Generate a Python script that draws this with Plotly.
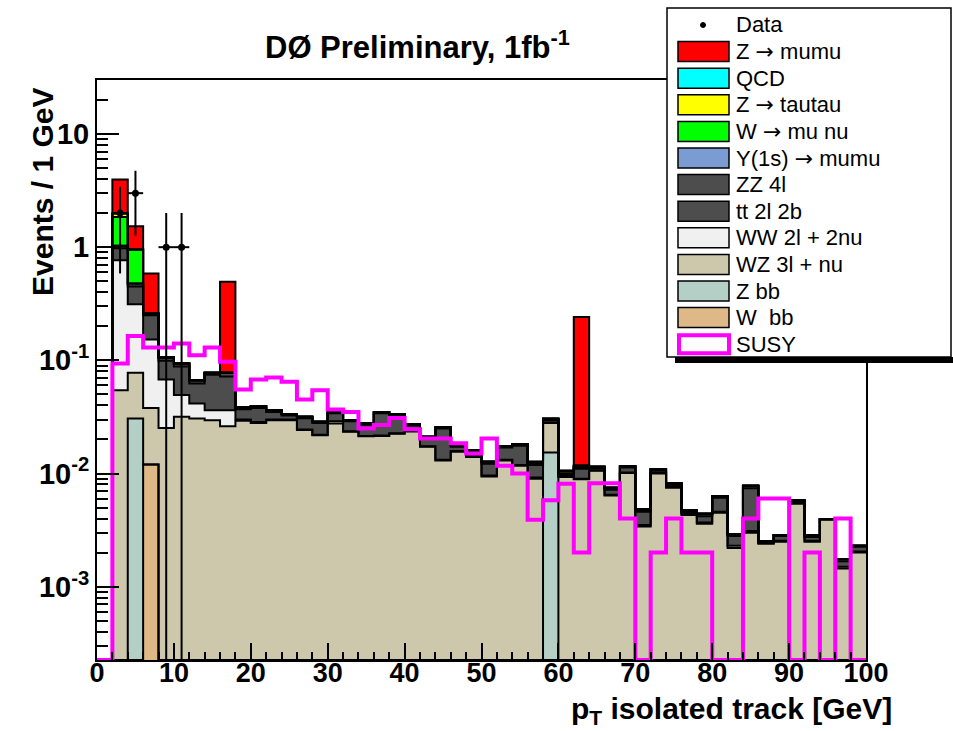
import numpy as np
import plotly.graph_objects as go

# ---------------- data (2 GeV bins from 0 to 100 GeV) ----------------
bin_edges = list(range(0, 101, 2))
bin_centers = [e + 1 for e in bin_edges[:-1]]

data_counts = [0, 2, 3, 0, 1, 1, 0, 0, 0, 0, 0, 0, 0, 0, 0, 0, 0, 0, 0, 0,
               0, 0, 0, 0, 0, 0, 0, 0, 0, 0, 0, 0, 0, 0, 0, 0, 0, 0, 0, 0,
               0, 0, 0, 0, 0, 0, 0, 0, 0, 0]

w_bb = [0, 0, 0, 0.012, 0, 0, 0, 0, 0, 0, 0, 0, 0, 0, 0, 0, 0, 0, 0, 0,
        0, 0, 0, 0, 0, 0, 0, 0, 0, 0, 0, 0, 0, 0, 0, 0, 0, 0, 0, 0,
        0, 0, 0, 0, 0, 0, 0, 0, 0, 0]
z_bb = [0, 0, 0.0307, 0, 0, 0, 0, 0, 0, 0, 0, 0, 0, 0, 0, 0, 0, 0, 0, 0,
        0, 0, 0, 0, 0, 0, 0, 0, 0, 0.0153, 0, 0, 0, 0, 0, 0, 0, 0, 0, 0,
        0, 0, 0, 0, 0, 0, 0, 0, 0, 0]
wz_3l_nu = [0, 0.0545, 0.0469, 0.026, 0.0253, 0.0317, 0.0307, 0.0296, 0.0262, 0.0293,
            0.0280, 0.0296, 0.0296, 0.0242, 0.0218, 0.0277, 0.0234, 0.0213, 0.0215, 0.0225,
            0.0235, 0.0172, 0.0130, 0.0156, 0.0140, 0.0094, 0.0130, 0.0117, 0.0090, 0.0127,
            0.0093, 0.0089, 0.0106, 0.0064, 0.0101, 0.0034, 0.0100, 0.0075, 0.0043, 0.0036,
            0.0045, 0.0022, 0.0030, 0.0024, 0.0025, 0.0054, 0.0025, 0.0039, 0.00145, 0.0020]
ww_2l_2nu = [0, 0.7125, 0.235, 0.115, 0.0425, 0.0176, 0.0109, 0.0067, 0.0101, 0.0007,
             0.0005, 0.0004, 0.0004, 0.0003, 0.0002, 0.0013, 0.0002, 0.0002, 0.0002, 0.0002,
             0.0002, 0.0002, 0.0002, 0.0002, 0.0002, 0.0002, 0.0002, 0.0002, 0.0002, 0.0002,
             0.0001, 0.0001, 0.0001, 0.0001, 0.0001, 0.0001, 0.0001, 0.0001, 0.0001, 0.0001,
             0.0001, 0.0001, 0.0001, 0.00005, 0.00005, 0.0001, 0.00005, 0.00005, 0.00005, 0.00005]
tt_2l_2b = [0, 0.213, 0.137, 0.097, 0.0312, 0.0387, 0.0209, 0.0382, 0.0357, 0.0070,
            0.0095, 0.0050, 0.0025, 0.0063, 0.0060, 0.0050, 0.0054, 0.0055, 0.0123, 0.0098,
            0.0028, 0.0031, 0.0118, 0.0014, 0.0013, 0.0026, 0.0038, 0.0057, 0.0027, 0.0013,
            0.0003, 0.0020, 0.0005, 0.0007, 0.0011, 0.0011, 0.0005, 0.0003, 0.0001, 0.0005,
            0.0015, 0.0005, 0.0043, 0.00001, 0.00025, 0.0002, 0.0002, 0.00001, 0.00018, 0.0002]
zz_4l = [0, 0.05, 0.028, 0.010, 0.007, 0.006, 0.0043, 0.0031, 0.0056, 0.0013,
         0.0013, 0.0013, 0.0010, 0.0009, 0.0006, 0.0007, 0.0006, 0.0007, 0.0007, 0.0010,
         0.0008, 0.0006, 0.0005, 0.0006, 0.0005, 0.0005, 0.0005, 0.0006, 0.0003, 0.0010,
         0.0003, 0.0005, 0.0003, 0.0003, 0.0003, 0.0002, 0.0003, 0.0003, 0.0002, 0.0002,
         0.0002, 0.0001, 0.0004, 0.00006, 0.00006, 0.0001, 0.0001, 0.00001, 0.00008, 0.00005]
y1s_mumu = [0] * 50
w_mu_nu = [0, 0.82, 0.477] + [0] * 47
z_tautau = [0, 0.13, 0, 0, 0, 0, 0, 0, 0, 0, 0, 0, 0, 0, 0, 0, 0, 0, 0, 0,
            0, 0, 0, 0, 0, 0, 0, 0, 0.0005, 0, 0.0006, 0.0003, 0, 0, 0, 0, 0, 0, 0, 0,
            0, 0, 0, 0, 0, 0, 0, 0, 0, 0]
qcd = [0] * 50
z_mumu = [0, 1.98, 0.575, 0.326, 0, 0, 0, 0, 0.416, 0, 0, 0, 0, 0, 0, 0, 0, 0, 0, 0,
          0, 0, 0, 0, 0, 0, 0, 0, 0, 0, 0, 0.230, 0, 0, 0, 0, 0, 0, 0, 0,
          0, 0, 0, 0, 0, 0, 0, 0, 0, 0]
susy = [0, 0.094, 0.164, 0.130, 0.130, 0.141, 0.111, 0.130, 0.097, 0.0553,
        0.0678, 0.0706, 0.0646, 0.0451, 0.0545, 0.0368, 0.0349, 0.0250, 0.0268, 0.0310,
        0.0246, 0.0204, 0.0204, 0.0185, 0.0150, 0.0204, 0.0117, 0.0100, 0.0039, 0.0058,
        0.0081, 0.0020, 0.0082, 0.0082, 0.0040, 0, 0.0020, 0.0040, 0.0020, 0.0020,
        0, 0, 0.0040, 0.0060, 0.0060, 0, 0.0020, 0, 0.0040, 0]

# stack order: bottom -> top
stack_names = ["W  bb", "Z bb", "WZ 3l + nu", "WW 2l + 2nu", "tt 2l 2b", "ZZ 4l",
               "Y(1s) \u2192 mumu", "W \u2192 mu nu", "Z \u2192 tautau", "QCD", "Z \u2192 mumu"]
stack_values = [w_bb, z_bb, wz_3l_nu, ww_2l_2nu, tt_2l_2b, zz_4l,
                y1s_mumu, w_mu_nu, z_tautau, qcd, z_mumu]
stack_colors = ["#deb887", "#b3cfc6", "#cdc7ab", "#f0f0f0", "#4d4d4d", "#4d4d4d",
                "#7b9bd3", "#00ff00", "#ffff00", "#00ffff", "#ff0000"]
susy_color = "#ff00ff"

y_min, y_max = 2.25e-4, 30.0
x_labels = ["0", "10", "20", "30", "40", "50", "60", "70", "80", "90", "100"]
y_tickvals = [1e-3, 1e-2, 1e-1, 1, 10]
y_ticktext = ["10<sup>-3</sup>", "10<sup>-2</sup>", "10<sup>-1</sup>", "1", "10"]

# ---------------- figure ----------------
W, H = 953, 731
ML, MR, MT, MB = 97, 87, 80, 71
FONT = "Liberation Sans, Arial, Helvetica, sans-serif"
ARROW = '<span style="font-family:DejaVu Sans">\u2192</span>'

fig = go.Figure()

for name, vals, col in zip(stack_names, stack_values, stack_colors):
    fig.add_trace(go.Bar(x=bin_centers, y=vals, width=2, name=name,
                         marker=dict(color=col, line=dict(width=0)),
                         showlegend=False, hoverinfo="skip"))

# outlines of each cumulative histogram (ROOT THStack style)
cum = np.cumsum(np.array(stack_values, dtype=float), axis=0)
for k in range(cum.shape[0]):
    ys = np.maximum(cum[k], y_min)
    fig.add_trace(go.Scatter(x=bin_edges, y=np.append(ys, ys[-1]), mode="lines",
                             line=dict(color="black", width=2, shape="hv"),
                             showlegend=False, hoverinfo="skip"))

# SUSY signal
s = np.maximum(np.array(susy, dtype=float), y_min)
fig.add_trace(go.Scatter(x=bin_edges, y=np.append(s, s[-1]), mode="lines",
                         line=dict(color=susy_color, width=4, shape="hv"),
                         showlegend=False, hoverinfo="skip"))

# data
dc = np.array(data_counts, dtype=float)
nz = dc > 0
fig.add_trace(go.Scatter(x=np.array(bin_centers)[nz], y=dc[nz], mode="markers",
                         marker=dict(color="black", size=7),
                         error_y=dict(type="data", array=np.sqrt(dc[nz]), color="black",
                                      thickness=2, width=0),
                         error_x=dict(type="constant", value=1, color="black",
                                      thickness=2, width=0),
                         showlegend=False, hoverinfo="skip"))

minor_y = [m * 10.0 ** e for e in range(-4, 2) for m in range(2, 10)]

fig.update_layout(
    width=W, height=H, barmode="stack", bargap=0,
    margin=dict(l=ML, r=MR, t=MT, b=MB, pad=0),
    plot_bgcolor="white", paper_bgcolor="white",
    showlegend=False,
    xaxis=dict(range=[0, 100], showline=True, linecolor="black", linewidth=2, mirror=True,
               ticks="inside", ticklen=17, tickwidth=2, tickcolor="black",
               tickmode="array", tickvals=[int(t) for t in x_labels], ticktext=x_labels,
               tickfont=dict(family=FONT, size=27, color="black", weight="bold"),
               ticklabelstandoff=-12,
               minor=dict(ticks="inside", ticklen=8, tickwidth=1.5, tickcolor="black",
                          dtick=2, tick0=0),
               showgrid=False, zeroline=False),
    yaxis=dict(type="log", range=[np.log10(y_min), np.log10(y_max)],
               showline=True, linecolor="black", linewidth=2, mirror=True,
               ticks="inside", ticklen=22, tickwidth=2, tickcolor="black",
               tickmode="array", tickvals=y_tickvals, ticktext=y_ticktext,
               tickfont=dict(family=FONT, size=29, color="black", weight="bold"),
               minor=dict(ticks="inside", ticklen=11, tickwidth=1.5, tickcolor="black",
                          tickmode="array", tickvals=minor_y),
               showgrid=False, zeroline=False),
)

# pixel -> paper helpers (layout placement only)
def px(x):
    return (x - ML) / (W - ML - MR)

def py(y):
    return (H - MB - y) / (H - MT - MB)

shapes = []
annotations = []

# title and axis titles
annotations.append(dict(x=px(417), y=py(45), xref="paper", yref="paper",
                        text="<b>D\u00d8 Preliminary, 1fb<sup>-1</sup></b>", showarrow=False,
                        xanchor="center", yanchor="middle",
                        font=dict(family=FONT, size=31, color="black")))
annotations.append(dict(x=px(894), y=py(731), xref="paper", yref="paper",
                        text="<b>p<sub>T</sub> isolated track [GeV]</b>", showarrow=False,
                        xanchor="right", yanchor="bottom",
                        font=dict(family=FONT, size=30, color="black")))
annotations.append(dict(x=px(42), y=py(192), xref="paper", yref="paper",
                        text="<b>Events / 1 GeV</b>", showarrow=False, textangle=-90,
                        xanchor="center", yanchor="middle",
                        font=dict(family=FONT, size=30, color="black")))

# legend (drawn manually, ROOT TLegend look)
leg_names = ["Data", "Z " + ARROW + " mumu", "QCD", "Z " + ARROW + " tautau",
             "W " + ARROW + " mu nu", "Y(1s) " + ARROW + " mumu", "ZZ 4l", "tt 2l 2b",
             "WW 2l + 2nu", "WZ 3l + nu", "Z bb", "W\u00a0 bb", "SUSY"]
leg_fill = [None] + stack_colors[::-1] + ["white"]
shapes.append(dict(type="rect", xref="paper", yref="paper", x0=px(675), x1=px(960),
                   y0=py(357), y1=py(363), fillcolor="black", line=dict(width=0)))
shapes.append(dict(type="rect", xref="paper", yref="paper", x0=px(667), x1=px(951),
                   y0=py(357), y1=py(8), fillcolor="white",
                   line=dict(color="black", width=1.5)))
row0, dy = 25, 26.6
for i, (nm, fc) in enumerate(zip(leg_names, leg_fill)):
    cy = row0 + dy * i
    if i == 0:
        shapes.append(dict(type="circle", xref="paper", yref="paper",
                           x0=px(700.5), x1=px(705.5), y0=py(cy + 2.5), y1=py(cy - 2.5),
                           fillcolor="black", line=dict(color="black", width=1)))
    elif nm == "SUSY":
        shapes.append(dict(type="rect", xref="paper", yref="paper",
                           x0=px(679), x1=px(729), y0=py(cy + 9), y1=py(cy - 9),
                           fillcolor="white", line=dict(color=susy_color, width=4)))
    else:
        shapes.append(dict(type="rect", xref="paper", yref="paper",
                           x0=px(678), x1=px(729), y0=py(cy + 10), y1=py(cy - 10),
                           fillcolor=fc, line=dict(color="black", width=1.5)))
    annotations.append(dict(x=px(734), y=py(cy), xref="paper", yref="paper", text=nm,
                            showarrow=False, xanchor="left", yanchor="middle",
                            font=dict(family=FONT, size=22, color="black")))

fig.update_layout(shapes=shapes, annotations=annotations)
fig.write_html("out.html")
